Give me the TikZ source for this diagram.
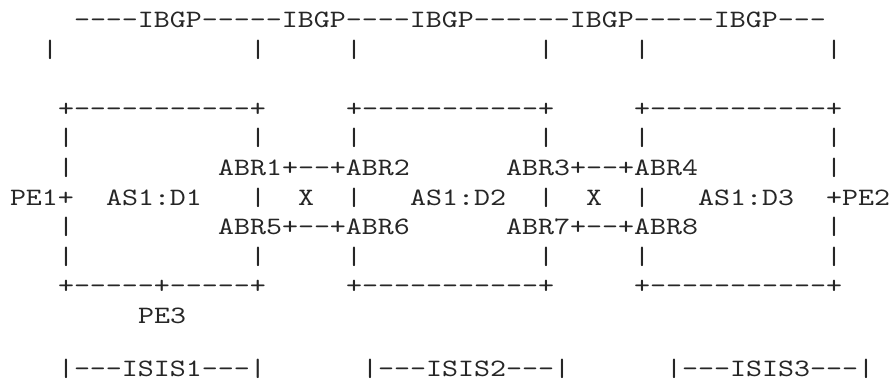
\documentclass[tikz,border=0pt]{standalone}
\usepackage{fontspec}
\usepackage{graphicx}
\setmonofont{lmmono10-regular.otf}
\newcommand\hsc{1.219}
% place a text segment: name, column, baseline y (from top), text
\newcommand\putseg[4]{\node[asc] (#1) at ({10+16*#2},{383-(#3)}) {\scalebox{\hsc}[1]{#4}};}
\newcommand\rowy[1]{28+29.5*#1}
\tikzset{asc/.style={anchor=base west, inner sep=0pt, outer sep=0pt,
  font=\ttfamily\fontsize{25}{25}\selectfont, text=black!85}}
\begin{document}
\begin{tikzpicture}[x=1pt,y=1pt]
\useasboundingbox (0,0) rectangle (890,383);
% row 0
\putseg{ibgp}{4}{\rowy{0}}{----IBGP-----IBGP----IBGP------IBGP-----IBGP---}
% row 1
\putseg{ta}{2}{\rowy{1}}{|}
\putseg{tb}{15}{\rowy{1}}{|}
\putseg{tc}{21}{\rowy{1}}{|}
\putseg{td}{33}{\rowy{1}}{|}
\putseg{te}{39}{\rowy{1}}{|}
\putseg{tf}{51}{\rowy{1}}{|}
% row 3 box tops
\putseg{topA}{3}{\rowy{3}}{+-----------+}
\putseg{topB}{21}{\rowy{3}}{+-----------+}
\putseg{topC}{39}{\rowy{3}}{+-----------+}
% row 4
\putseg{r4a}{3}{\rowy{4}}{|}
\putseg{r4b}{15}{\rowy{4}}{|}
\putseg{r4c}{21}{\rowy{4}}{|}
\putseg{r4d}{33}{\rowy{4}}{|}
\putseg{r4e}{39}{\rowy{4}}{|}
\putseg{r4f}{51}{\rowy{4}}{|}
% row 5
\putseg{r5a}{3}{\rowy{5}}{|}
\putseg{abrA}{13}{\rowy{5}}{ABR1+--+ABR2}
\putseg{abrB}{31}{\rowy{5}}{ABR3+--+ABR4}
\putseg{r5f}{51}{\rowy{5}}{|}
% row 6
\putseg{pe1}{0}{\rowy{6}}{PE1+}
\putseg{d1}{6}{\rowy{6}}{AS1:D1}
\putseg{r6b}{15}{\rowy{6}}{|}
\putseg{x1}{18}{\rowy{6}}{X}
\putseg{r6c}{21}{\rowy{6}}{|}
\putseg{d2}{25}{\rowy{6}}{AS1:D2}
\putseg{r6d}{33}{\rowy{6}}{|}
\putseg{x2}{36}{\rowy{6}}{X}
\putseg{r6e}{39}{\rowy{6}}{|}
\putseg{d3}{43}{\rowy{6}}{AS1:D3}
\putseg{pe2}{51}{\rowy{6}}{+PE2}
% row 7
\putseg{r7a}{3}{\rowy{7}}{|}
\putseg{abrC}{13}{\rowy{7}}{ABR5+--+ABR6}
\putseg{abrD}{31}{\rowy{7}}{ABR7+--+ABR8}
\putseg{r7f}{51}{\rowy{7}}{|}
% row 8
\putseg{r8a}{3}{\rowy{8}}{|}
\putseg{r8b}{15}{\rowy{8}}{|}
\putseg{r8c}{21}{\rowy{8}}{|}
\putseg{r8d}{33}{\rowy{8}}{|}
\putseg{r8e}{39}{\rowy{8}}{|}
\putseg{r8f}{51}{\rowy{8}}{|}
% row 9 box bottoms
\putseg{botA}{3}{\rowy{9}}{+-----+-----+}
\putseg{botB}{21}{\rowy{9}}{+-----------+}
\putseg{botC}{39}{\rowy{9}}{+-----------+}
% row 10
\putseg{pe3}{8}{\rowy{10}}{PE3}
% row 12 (kept inside the page)
\putseg{isis1}{3}{376}{|---ISIS1---|}
\putseg{isis2}{22}{376}{|---ISIS2---|}
\putseg{isis3}{41}{376}{|---ISIS3---|}
\end{tikzpicture}
\end{document}
